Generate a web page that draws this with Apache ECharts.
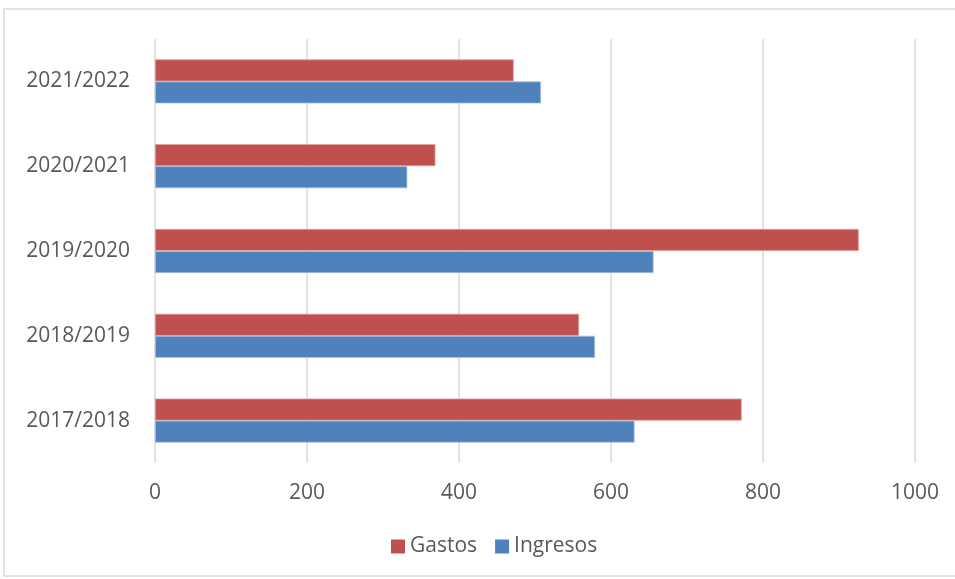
<!DOCTYPE html>
<html>
<head>
<meta charset="utf-8">
<script src="https://cdn.jsdelivr.net/npm/echarts@6/dist/echarts.min.js"></script>
<style>
  html, body { margin: 0; padding: 0; background: #ffffff; }
  #chart { width: 955px; height: 579px; }
</style>
</head>
<body>
<div id="chart"></div>
<script>
// Academic years, bottom to top on the category axis
const categories = ['2017/2018', '2018/2019', '2019/2020', '2020/2021', '2021/2022'];
const ingresos = [631, 579, 656, 332, 508];
const gastos = [772, 558, 926, 369, 472];
const xTicks = [0, 200, 400, 600, 800, 1000];

const FONT = "'Open Sans', sans-serif";
const TEXT = '#595959';

const chart = echarts.init(document.getElementById('chart'), null, { renderer: 'canvas' });
chart.setOption({
  backgroundColor: '#ffffff',
  animation: false,
  textStyle: { fontFamily: FONT },
  graphic: [{
    type: 'rect',
    shape: { x: 4, y: 9, width: 960, height: 567 },
    style: { fill: 'none', stroke: '#d9d9d9', lineWidth: 1.5 },
    silent: true
  }],
  grid: { left: 155, right: 40, top: 39, bottom: 116, containLabel: false },
  legend: {
    data: ['Gastos', 'Ingresos'],
    bottom: 17,
    left: 386,
    itemWidth: 14,
    itemHeight: 14,
    itemGap: 18,
    icon: 'rect',
    itemStyle: { borderWidth: 0 },
    textStyle: { color: TEXT, fontSize: 21, fontFamily: FONT }
  },
  xAxis: {
    type: 'value',
    min: xTicks[0],
    max: xTicks[xTicks.length - 1],
    interval: 200,
    axisLine: { show: false },
    axisTick: { show: false },
    splitLine: { lineStyle: { color: '#d9d9d9', width: 1.5 } },
    axisLabel: {
      color: TEXT, fontSize: 21, margin: 20, fontFamily: FONT,
      formatter: v => String(v)
    }
  },
  yAxis: {
    type: 'category',
    data: categories,
    axisLine: { show: false },
    axisTick: { show: false },
    axisLabel: { color: TEXT, fontSize: 21, margin: 25, fontFamily: FONT }
  },
  series: [
    {
      name: 'Gastos', type: 'bar', data: gastos,
      barGap: '0%', barCategoryGap: '48%',
      itemStyle: { color: '#c0504d', borderColor: '#dc9f9d', borderWidth: 0.8 }
    },
    {
      name: 'Ingresos', type: 'bar', data: ingresos,
      barGap: '0%', barCategoryGap: '48%',
      itemStyle: { color: '#4f81bd', borderColor: '#a7c0de', borderWidth: 0.8 }
    }
  ]
});
</script>
</body>
</html>
